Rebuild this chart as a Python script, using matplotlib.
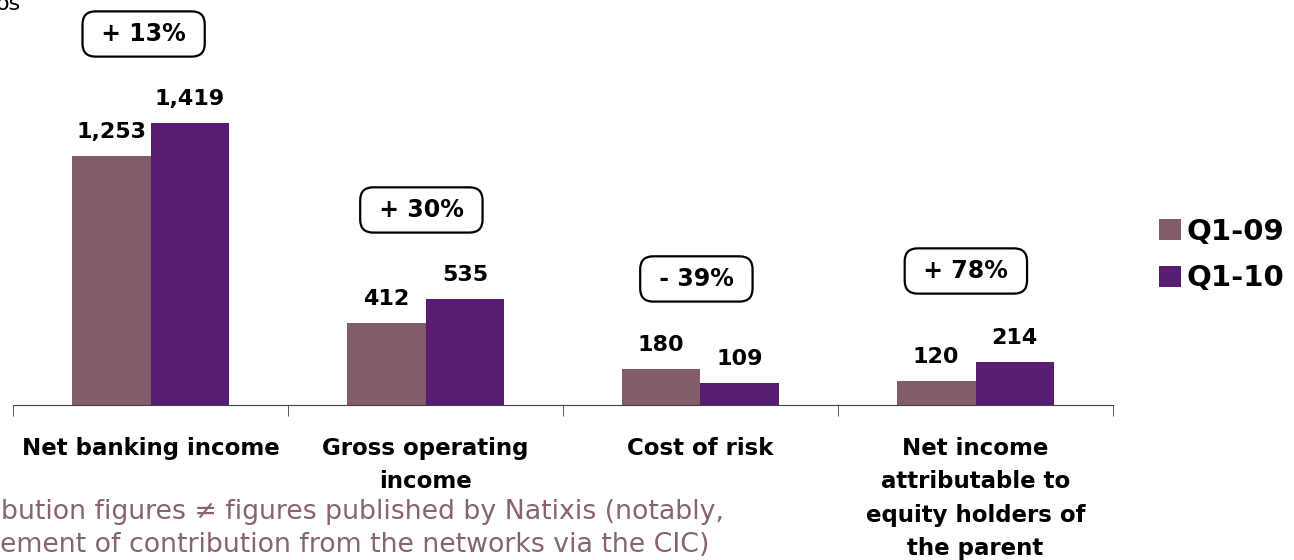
import matplotlib
matplotlib.use('Agg')
import matplotlib.pyplot as plt
import numpy as np

# data
categories = ['Net banking income', 'Gross operating\nincome', 'Cost of risk',
              'Net income\nattributable to\nequity holders of\nthe parent']
q1_09 = [1253, 412, 180, 120]
q1_10 = [1419, 535, 109, 214]
series_names = ['Q1-09', 'Q1-10']
changes = ['+ 13%', '+ 30%', '- 39%', '+ 78%']
change_y = [1866, 981, 634, 674]      # height of the change boxes
change_dx = [-0.025, -0.015, -0.015, -0.035]

c09 = '#825C69'
c10 = '#581C70'
note_col = '#866272'

plt.rcParams['font.family'] = 'DejaVu Sans'

fig = plt.figure(figsize=(12.94, 5.6), dpi=100)
ax = fig.add_axes([13/1294, 155/560, 1100/1294, 405/560])

x = np.arange(len(categories))
w = 0.286
b1 = ax.bar(x - w/2, q1_09, w, color=c09, label=series_names[0])
b2 = ax.bar(x + w/2, q1_10, w, color=c10, label=series_names[1])

for bars, vals in [(b1, q1_09), (b2, q1_10)]:
    for r, v in zip(bars, vals):
        ax.annotate(f'{v:,}', (r.get_x() + r.get_width()/2, r.get_height()),
                    xytext=(0, 13), textcoords='offset points',
                    ha='center', va='baseline', fontsize=16, fontweight='bold')

for i, (txt, yy) in enumerate(zip(changes, change_y)):
    ax.text(i + change_dx[i], yy, ' ' + txt + ' ', ha='center', va='center',
            fontsize=17, fontweight='bold',
            bbox=dict(boxstyle='round,pad=0.45,rounding_size=0.55', fc='white',
                      ec='black', lw=1.6))

ax.set_xlim(-0.5, 3.5)
ax.set_ylim(0, 2037)
for s in ['top', 'right', 'left']:
    ax.spines[s].set_visible(False)
ax.spines['bottom'].set_color('#404040')
ax.set_yticks([])
ax.set_xticks(x)
ax.set_xticklabels(categories, fontsize=16.5, fontweight='bold', linespacing=1.58)
ax.tick_params(axis='x', which='major', length=0, pad=23)
ax.set_xticks(np.arange(-0.5, 4, 1), minor=True)
ax.tick_params(axis='x', which='minor', length=8, color='#404040', direction='out')

fig.legend(loc='center left', bbox_to_anchor=(1159/1294, 1 - 255/560),
           frameon=False, prop={'size': 21, 'weight': 'bold'},
           handlelength=0.75, handleheight=0.75, handletextpad=0.2,
           labelspacing=0.65, borderpad=0, borderaxespad=0)

fig.text(-0.003, 1 - 4/560, 'os', fontsize=16, ha='left', va='center')
fig.text(0.001, 1 - 512/560, 'bution figures \u2260 figures published by Natixis (notably,',
         fontsize=19.3, color=note_col, ha='left', va='center')
fig.text(0.0, 1 - 545/560, 'ement of contribution from the networks via the CIC)',
         fontsize=19.3, color=note_col, ha='left', va='center')

plt.savefig('out.png', dpi=100)
